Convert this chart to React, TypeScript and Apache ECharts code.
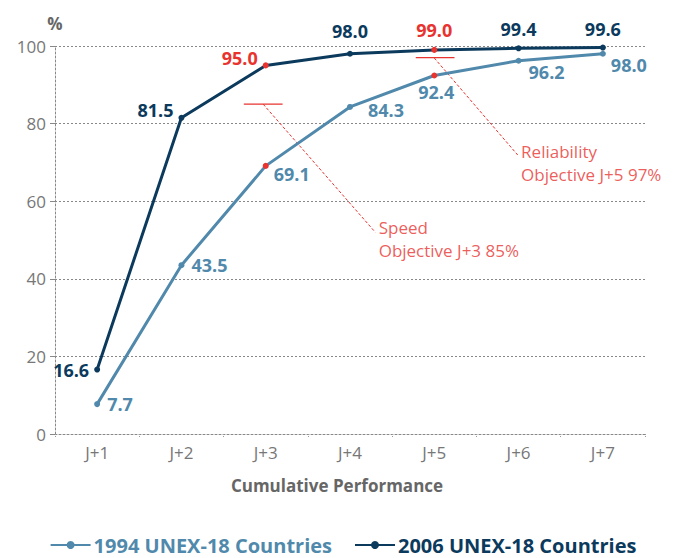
import React, { useEffect, useRef } from "react";
import * as echarts from "echarts";

const categories = ["J+1", "J+2", "J+3", "J+4", "J+5", "J+6", "J+7"];
const series1994 = [7.7, 43.5, 69.1, 84.3, 92.4, 96.2, 98.0];
const series2006 = [16.6, 81.5, 95.0, 98.0, 99.0, 99.4, 99.6];
const seriesNames = ["1994 UNEX-18 Countries", "2006 UNEX-18 Countries"];
const yTicks = [0, 20, 40, 60, 80, 100];
// annotation geometry in (category position, %) coordinates
const speedBar: [number, number][] = [[2.74, 85], [3.2, 85]];
const speedLeader: [number, number][] = [[2.97, 85], [4.3, 52]];
const speedText: [number, number] = [4.34, 50.3];
const relBar: [number, number][] = [[4.78, 97], [5.24, 97]];
const relLeader: [number, number][] = [[5.0, 96.9], [5.99, 71.9]];
const relText: [number, number] = [6.03, 69.9];
const redPoints = [2, 4];

const C_LIGHT = "#5089ab";
const C_DARK = "#0b3a5d";
const C_RED = "#e8332f";
const FONT = "'Open Sans', 'Noto Sans', sans-serif";

const lab1994 = [
  { position: "right", offset: [2, 0] },
  { position: "right", offset: [2, 0] },
  { position: "right", offset: [0, 8] },
  { position: "right", offset: [10, 3] },
  { position: "bottom", offset: [2, 0] },
  { position: "right", offset: [2, 11] },
  { position: "right", offset: [0, 11] },
];
const lab2006 = [
  { position: "left", offset: [0, 0] },
  { position: "left", offset: [0, -8] },
  { position: "left", offset: [0, -7] },
  { position: "top", offset: [0, -6] },
  { position: "top", offset: [0, -3] },
  { position: "top", offset: [0, -2] },
  { position: "top", offset: [0, -2] },
];

export default function App() {
  const ref = useRef<HTMLDivElement>(null);
  useEffect(() => {
    if (!ref.current) return;
    const chart = echarts.init(ref.current, undefined, { renderer: "svg" });
    const mk = (vals: number[], color: string, labs: any[], redLabels: boolean) =>
      vals.map((v, i) => {
        const isRed = redPoints.includes(i);
        return {
          value: v,
          itemStyle: { color: isRed ? C_RED : color },
          label: {
            show: true,
            position: labs[i].position,
            offset: labs[i].offset,
            distance: 5,
            color: isRed && redLabels ? C_RED : color,
            fontWeight: "bold",
            fontSize: 18,
            fontFamily: FONT,
            formatter: () => v.toFixed(1),
          },
        };
      });
    const annLine = (data: [number, number][], width: number, dashed: boolean) => ({
      type: "line",
      xAxisIndex: 1,
      data,
      symbol: "none",
      silent: true,
      lineStyle: { color: C_RED, width, type: dashed ? [3, 2] : "solid" },
      z: 1,
    });
    const annText = (pos: [number, number], text: string) => ({
      type: "scatter",
      xAxisIndex: 1,
      symbolSize: 0,
      silent: true,
      data: [pos],
      label: {
        show: true,
        position: "right",
        distance: 0,
        formatter: text,
        color: C_RED,
        fontSize: 17,
        lineHeight: 23,
        fontFamily: FONT,
      },
    });
    chart.setOption({
      animation: false,
      grid: { left: 55, right: 41, top: 46, bottom: 124 },
      legend: {
        bottom: -2,
        left: "center",
        itemWidth: 40,
        itemHeight: 10,
        itemGap: 22,
        data: [
          { name: seriesNames[0], textStyle: { color: C_LIGHT } },
          { name: seriesNames[1], textStyle: { color: C_DARK } },
        ],
        textStyle: { fontSize: 20, fontWeight: "bold", fontFamily: FONT, padding: [0, 0, 0, -2] },
      },
      xAxis: [
        {
          type: "category",
          data: categories,
          boundaryGap: true,
          name: "Cumulative Performance",
          nameLocation: "middle",
          nameGap: 43,
          nameTextStyle: {
            color: "#666",
            fontSize: 17,
            fontWeight: "bold",
            fontFamily: FONT,
            padding: [0, 26, 0, 0],
          },
          axisLine: { show: true, lineStyle: { color: "#888", type: [2, 2], width: 1 } },
          axisTick: { show: true, length: 4, lineStyle: { color: "#999", type: "dotted" } },
          axisLabel: { color: "#777", fontSize: 17, margin: 10, fontFamily: FONT },
        },
        { type: "value", min: 0.5, max: 7.5, show: false },
      ],
      yAxis: {
        type: "value",
        min: 0,
        max: 100,
        interval: 20,
        name: "%",
        nameGap: 14,
        nameTextStyle: { color: "#666", fontSize: 17, fontWeight: "bold", fontFamily: FONT },
        axisLine: { show: true, lineStyle: { color: "#888", type: [2, 2], width: 1 } },
        axisTick: { show: true, length: 5, lineStyle: { color: "#888" } },
        axisLabel: {
          color: "#777",
          fontSize: 17,
          margin: 9,
          fontFamily: FONT,
          formatter: (v: number) => (yTicks.includes(v) ? String(v) : ""),
        },
        splitLine: { show: true, lineStyle: { color: "#888", type: [2, 2], width: 1 } },
      },
      series: [
        {
          name: seriesNames[0],
          type: "line",
          data: mk(series1994, C_LIGHT, lab1994, false),
          color: C_LIGHT,
          symbol: "circle",
          symbolSize: 6,
          lineStyle: { width: 3, color: C_LIGHT },
          z: 3,
        },
        {
          name: seriesNames[1],
          type: "line",
          data: mk(series2006, C_DARK, lab2006, true),
          color: C_DARK,
          symbol: "circle",
          symbolSize: 6,
          lineStyle: { width: 3, color: C_DARK },
          z: 4,
        },
        annLine(speedBar, 1.3, false),
        annLine(speedLeader, 1, true),
        annLine(relBar, 1.3, false),
        annLine(relLeader, 1, true),
        annText(speedText, "Speed\nObjective J+3 85%"),
        annText(relText, "Reliability\nObjective J+5 97%"),
      ],
    });
    return () => chart.dispose();
  }, []);
  return (
    <div
      ref={ref}
      style={{ position: "fixed", left: 0, top: 0, width: 686, height: 558, background: "#fff" }}
    />
  );
}
